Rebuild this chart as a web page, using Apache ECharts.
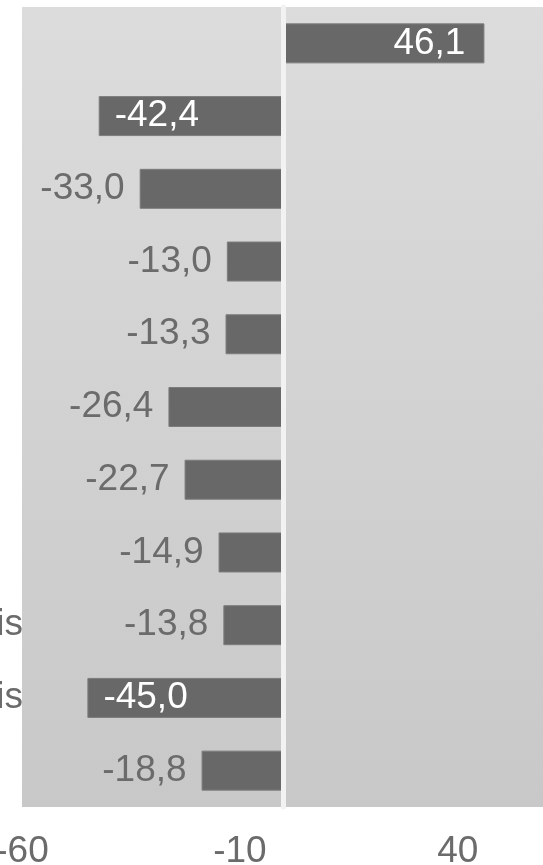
<!DOCTYPE html>
<html>
<head>
<meta charset="utf-8">
<script src="https://cdn.jsdelivr.net/npm/echarts@6/dist/echarts.min.js"></script>
<style>
html,body{margin:0;padding:0;background:#fff;}
#chart{width:543px;height:865px;}
</style>
</head>
<body>
<div id="chart"></div>
<script>
const categories = ['', '', '', '', '', '', '', '', 'Kreis', 'Kreis', ''];
const values = [46.1, -42.4, -33.0, -13.0, -13.3, -26.4, -22.7, -14.9, -13.8, -45.0, -18.8];
const xMin = -60, xMax = 60, xInterval = 50;

const FONT = '"Liberation Sans", Arial, sans-serif';
const FS = 37;
const insideThreshold = 40;

const seriesData = values.map(v => {
  const inside = Math.abs(v) > insideThreshold;
  return {
    value: v,
    label: {
      position: inside ? (v < 0 ? 'insideLeft' : 'insideRight') : (v < 0 ? 'left' : 'right'),
      color: inside ? '#ffffff' : '#6b6b6b',
      distance: inside ? (v < 0 ? 16 : 19) : 15
    }
  };
});

const chart = echarts.init(document.getElementById('chart'), null, {renderer: 'canvas'});
chart.setOption({
  animation: false,
  grid: {
    left: 22, right: -2, top: 7, bottom: 58,
    containLabel: false,
    outerBoundsMode: 'none',
    show: true,
    borderWidth: 0,
    backgroundColor: {
      type: 'linear', x: 0, y: 0, x2: 0, y2: 1,
      colorStops: [{offset: 0, color: '#dcdcdc'}, {offset: 1, color: '#c8c8c8'}]
    }
  },
  xAxis: {
    type: 'value',
    min: xMin, max: xMax, interval: xInterval,
    axisLine: {show: false},
    axisTick: {show: false},
    splitLine: {show: false},
    axisLabel: {
      showMaxLabel: false,
      fontFamily: FONT, fontSize: FS, color: '#6b6b6b', margin: 26,
      formatter: v => String(v)
    }
  },
  yAxis: {
    type: 'category',
    data: categories,
    inverse: true,
    z: 5,
    axisLine: {show: true, onZero: true, lineStyle: {color: '#f2f2f2', width: 5}},
    axisTick: {show: false},
    axisLabel: {fontFamily: FONT, fontSize: FS, color: '#6b6b6b', margin: -1}
  },
  series: [{
    type: 'bar',
    data: seriesData,
    barWidth: 40,
    itemStyle: {color: '#686868', borderColor: '#7c7c7c', borderWidth: 1},
    label: {
      show: true,
      fontFamily: FONT, fontSize: FS,
      formatter: p => p.value.toFixed(1).replace('.', ',')
    }
  }]
});
</script>
</body>
</html>
